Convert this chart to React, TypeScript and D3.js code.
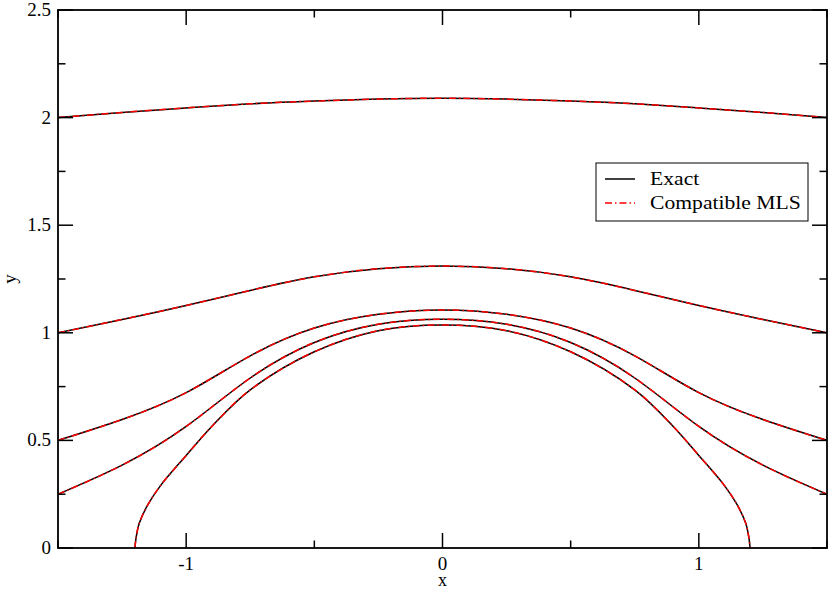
import * as d3 from "d3";

// x positions shared by the four open streamlines
const xGrid = [-1.5, -1.25, -1, -0.75, -0.5, -0.25, 0, 0.25, 0.5, 0.75, 1, 1.25, 1.5];
const yLine2 = [2.0, 2.024, 2.045, 2.064, 2.077, 2.086, 2.09, 2.086, 2.077, 2.064, 2.045, 2.024, 2.0];
const yLine1 = [1.0, 1.062, 1.127, 1.197, 1.26, 1.298, 1.31, 1.298, 1.26, 1.197, 1.127, 1.062, 1.0];
const yLine05 = [0.5, 0.597, 0.722, 0.893, 1.022, 1.086, 1.106, 1.086, 1.022, 0.893, 0.722, 0.597, 0.5];
const yLine025 = [0.25, 0.385, 0.565, 0.79, 0.955, 1.04, 1.063, 1.04, 0.955, 0.79, 0.565, 0.385, 0.25];

// closed body curve (stagnation streamline)
const bodyX = [-1.2, -1.195, -1.183, -1.15, -1.1, -1.0, -0.9, -0.75, -0.5, -0.25, 0, 0.25, 0.5, 0.75, 0.9, 1.0, 1.1, 1.15, 1.183, 1.195, 1.2];
const bodyY = [0, 0.05, 0.115, 0.2, 0.29, 0.43, 0.565, 0.735, 0.912, 1.01, 1.036, 1.01, 0.912, 0.735, 0.565, 0.43, 0.29, 0.2, 0.115, 0.05, 0];

const xMajor = [-1, 0, 1];
const xMinor = [-1.5, -0.5, 0.5, 1.5];
const yMajor = [0, 0.5, 1, 1.5, 2, 2.5];
const yMinor = [0.25, 0.75, 1.25, 1.75, 2.25];

const legendLabels = ["Exact", "Compatible MLS"];

const W = 830;
const H = 590;
const left = 58, right = 827, top = 10, bottom = 548;
const font = "'Liberation Serif', 'Times New Roman', serif";
const dashDot = "7,3,1.5,3";

export default function App() {
  const x = d3.scaleLinear().domain([-1.5, 1.5]).range([left, right]);
  const y = d3.scaleLinear().domain([0, 2.5]).range([bottom, top]);

  const openLine = d3
    .line<[number, number]>()
    .x((d) => x(d[0]))
    .y((d) => y(d[1]))
    .curve(d3.curveNatural);

  const bodyLine = d3
    .line<[number, number]>()
    .x((d) => x(d[0]))
    .y((d) => y(d[1]))
    .curve(d3.curveCatmullRom.alpha(0.5));

  const open = [yLine2, yLine1, yLine05, yLine025].map((ys) =>
    openLine(xGrid.map((v, i) => [v, ys[i]] as [number, number])) || ""
  );
  const body = bodyLine(bodyX.map((v, i) => [v, bodyY[i]] as [number, number])) || "";
  const paths = [...open, body];

  const majorLen = 15;
  const minorLen = 7.5;

  return (
    <svg
      width={W}
      height={H}
      style={{ position: "absolute", left: 0, top: 0, background: "#fff" }}
      fontFamily={font}
    >
      <clipPath id="plotClip">
        <rect x={left} y={top} width={right - left} height={bottom - top} />
      </clipPath>

      <g clipPath="url(#plotClip)" fill="none">
        {paths.map((d, i) => (
          <path key={"e" + i} d={d} stroke="#000" strokeWidth={1.5} />
        ))}
        {paths.map((d, i) => (
          <path key={"m" + i} d={d} stroke="#ff0000" strokeWidth={1.5} strokeDasharray={dashDot} />
        ))}
      </g>

      {/* ticks on all four sides, pointing inward */}
      <g stroke="#000" strokeWidth={1.5}>
        {xMajor.map((v) => (
          <g key={"xM" + v}>
            <line x1={x(v)} x2={x(v)} y1={bottom} y2={bottom - majorLen} />
            <line x1={x(v)} x2={x(v)} y1={top} y2={top + majorLen} />
          </g>
        ))}
        {xMinor.map((v) => (
          <g key={"xm" + v}>
            <line x1={x(v)} x2={x(v)} y1={bottom} y2={bottom - minorLen} />
            <line x1={x(v)} x2={x(v)} y1={top} y2={top + minorLen} />
          </g>
        ))}
        {yMajor.map((v) => (
          <g key={"yM" + v}>
            <line x1={left} x2={left + majorLen} y1={y(v)} y2={y(v)} />
            <line x1={right} x2={right - majorLen} y1={y(v)} y2={y(v)} />
          </g>
        ))}
        {yMinor.map((v) => (
          <g key={"ym" + v}>
            <line x1={left} x2={left + minorLen} y1={y(v)} y2={y(v)} />
            <line x1={right} x2={right - minorLen} y1={y(v)} y2={y(v)} />
          </g>
        ))}
      </g>

      <rect
        x={left}
        y={top}
        width={right - left}
        height={bottom - top}
        fill="none"
        stroke="#000"
        strokeWidth={1.8}
      />

      <g fontSize={19} fill="#000">
        {xMajor.map((v) => (
          <text key={"xl" + v} x={x(v)} y={570} textAnchor="middle">
            {v < 0 ? "-" + Math.abs(v) : String(v)}
          </text>
        ))}
        {yMajor.map((v) => (
          <text key={"yl" + v} x={51} y={y(v) + 6} textAnchor="end">
            {String(v)}
          </text>
        ))}
        <text x={x(0)} y={586} textAnchor="middle" fontSize={18}>x</text>
        <text transform={`translate(16,${(top + bottom) / 2}) rotate(-90)`} textAnchor="middle">
          y
        </text>
      </g>

      {/* legend */}
      <g>
        <rect x={596} y={163} width={212} height={58} fill="#fff" stroke="#000" strokeWidth={1} />
        <line x1={605} x2={635} y1={179} y2={179} stroke="#000" strokeWidth={1.5} />
        <line x1={605} x2={635} y1={203} y2={203} stroke="#ff0000" strokeWidth={1.5} strokeDasharray={dashDot} />
        <text transform="translate(650,185) scale(1.17,1)" fontSize={18.5}>{legendLabels[0]}</text>
        <text transform="translate(650,209) scale(1.17,1)" fontSize={18.5}>{legendLabels[1]}</text>
      </g>
    </svg>
  );
}
